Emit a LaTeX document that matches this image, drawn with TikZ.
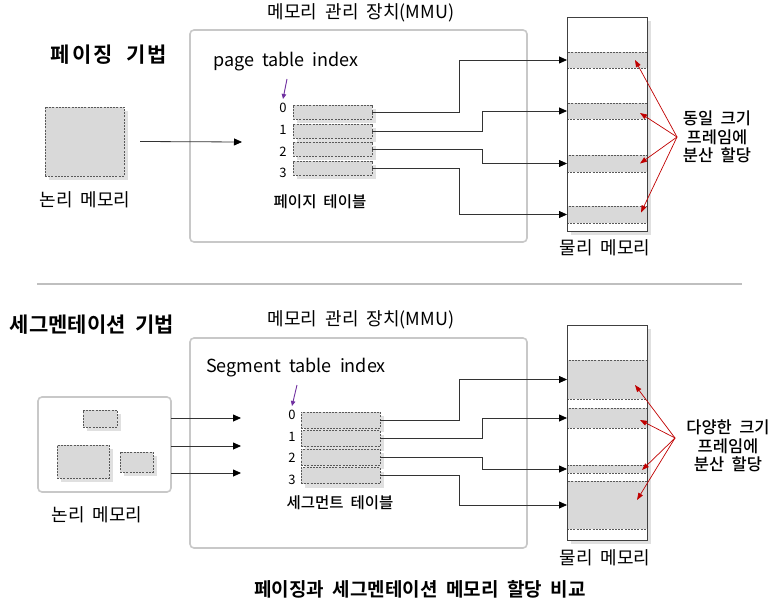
\documentclass[tikz,border=0pt]{standalone}
\usepackage{fontspec}
\setmainfont{Noto Sans CJK KR}[WordSpace=2, BoldFont={Noto Sans CJK KR Bold}]
\newfontfamily\medfont{Noto Sans CJK KR Medium}[WordSpace=2]
\usepackage{xcolor}
\usepackage{tikz}
\usetikzlibrary{arrows.meta}
\usetikzlibrary{positioning}
\usetikzlibrary{shadows}

\definecolor{cellgray}{HTML}{D9D9D9}
\definecolor{dashgray}{HTML}{595959}
\definecolor{edgegray}{HTML}{C8C8C8}
\definecolor{linegray}{HTML}{404040}
\definecolor{rulegray}{HTML}{BFBFBF}
\definecolor{notered}{HTML}{C00000}
\definecolor{idxpurple}{HTML}{7030A0}

\begin{document}
\begin{tikzpicture}[x=1pt, y=-1pt,
    cell/.style={rectangle, draw=dashgray, dash pattern=on 2pt off 1.2pt, line width=0.7pt, fill=cellgray, inner sep=0pt, outer sep=0pt},
    dropsh/.style={drop shadow={shadow xshift=4pt, shadow yshift=-4pt, fill=black!12, opacity=1}},
    tabentry/.style={cell, dropsh, minimum width=79pt},
    memframe/.style={cell, minimum width=80pt},
    softbox/.style={rectangle, draw=edgegray, line width=1.6pt, rounded corners=4pt, inner sep=0pt, outer sep=0pt},
    memory/.style={rectangle, draw=linegray, line width=0.8pt, fill=white, minimum width=80pt, inner sep=0pt, outer sep=0pt},
    memline/.style={draw=linegray, line width=0.8pt},
    link/.style={draw=black!80, line width=0.8pt, -{Triangle[length=8pt, width=7pt, color=black]}},
    pointer/.style={draw=idxpurple, line width=0.9pt, -{Triangle[length=5pt, width=4.5pt]}},
    fan/.style={draw=notered, line width=0.7pt, -{Triangle[length=7pt, width=5pt]}},
    sepline/.style={draw=rulegray, line width=2.5pt},
    lbl/.style={font=\fontsize{18}{21}\selectfont, inner sep=1pt},
    headtxt/.style={font=\fontsize{21}{24}\selectfont\bfseries, inner sep=1pt},
    tbl/.style={font=\medfont\fontsize{15.5}{18}\selectfont, inner sep=1pt},
    idx/.style={font=\fontsize{13}{15}\selectfont, inner sep=1pt},
    note/.style={font=\medfont\fontsize{16.5}{18.5}\selectfont, align=center, inner sep=1pt}
]
\useasboundingbox (0,0) rectangle (775,604);

% ---------------- 페이징 기법 ----------------
\node[headtxt] (ptitle) at (109,55) {\addfontfeature{LetterSpace=10}페이징 기법};

% 논리 메모리
\node[cell, dropsh, minimum width=79pt, minimum height=69pt] (plog) at (84.5,141.5) {};
\node[lbl] (plogl) at (85,200) {논리 메모리};

% 메모리 관리 장치
\node[softbox, minimum width=337pt, minimum height=212pt] (pmmu) at (358.5,136) {};
\node[lbl] (pmmul) at (361,13) {메모리 관리 장치(MMU)};
\node[lbl] (pidx) at (286,62) {page table index};

% 페이지 테이블
\node[tabentry, minimum height=14pt] (p0) at (332.5,112) {};
\node[tabentry, minimum height=14pt] (p1) at (332.5,131) {};
\node[tabentry, minimum height=14pt] (p2) at (332.5,149) {};
\node[tabentry, minimum height=14pt] (p3) at (332.5,168) {};
\node[idx] (pd0) at (283,108) {0};
\node[idx] (pd1) at (283,130) {1};
\node[idx] (pd2) at (283,152) {2};
\node[idx] (pd3) at (283,173) {3};
\node[tbl] (ptbl) at (320,202) {페이지 테이블};

% 물리 메모리
\node[memory, dropsh, minimum height=214pt] (pphy) at (607,124) {};
\node[memframe, minimum height=16pt] (f0) at (607,60) {};
\node[memframe, minimum height=16pt] (f1) at (607,111) {};
\node[memframe, minimum height=17pt] (f2) at (607,163.5) {};
\node[memframe, minimum height=17pt] (f3) at (607,214.5) {};
\draw[memline] (pphy.north west) rectangle (pphy.south east);
\node[lbl] (pphyl) at (605,248) {물리 메모리};

% 연결선
\coordinate (pin) at (242,142);
\draw[link] ([xshift=16pt]plog.east) -- (pin);
\draw[link] (p0.east) -- ++(87,0) |- (f0.west);
\draw[link] (p1.east) -- ++(110,0) |- (f1.west);
\draw[link] (p2.east) -- ++(110,0) |- (f2.west);
\draw[link] (p3.east) -- ++(87,0) |- (f3.west);
\coordinate (pptr) at (287,79);
\draw[pointer] (pptr) -- ([yshift=3pt]pd0.north);

% 설명
\node[note] (pnote) at (717,137) {동일 크기\\프레임에\\분산 할당};
\coordinate (pfan) at (677,137);
\draw[fan] (pfan) -- ([shift={(-12,0)}]f0.east);
\draw[fan] (pfan) -- ([shift={(-7,2)}]f1.east);
\draw[fan] (pfan) -- ([shift={(-7,0)}]f2.east);
\draw[fan] (pfan) -- ([shift={(-6,-2)}]f3.east);

% 구분선
\draw[sepline] (37,284) -- (742,284);

% ---------------- 세그멘테이션 기법 ----------------
\node[headtxt] (stitle) at (92,325) {세그멘테이션 기법};

% 논리 메모리
\node[softbox, fill=white, minimum width=133pt, minimum height=95pt] (slog) at (104.5,444.5) {};
\node[cell, dropsh, minimum width=34pt, minimum height=17pt] (sa) at (100,418.5) {};
\node[cell, dropsh, minimum width=52pt, minimum height=33pt] (sb) at (83,461.5) {};
\node[cell, dropsh, minimum width=33pt, minimum height=20pt] (sc) at (136.5,462) {};
\node[lbl] (slogl) at (97,515) {논리 메모리};

% 메모리 관리 장치
\node[softbox, minimum width=337pt, minimum height=210pt] (smmu) at (358.5,443) {};
\node[lbl] (smmul) at (361,320) {메모리 관리 장치(MMU)};
\node[lbl] (sidx) at (296,368) {Segment table index};

% 세그먼트 테이블
\node[tabentry, minimum height=16pt] (s0) at (340.5,420) {};
\node[tabentry, minimum height=16pt] (s1) at (340.5,438.5) {};
\node[tabentry, minimum height=16pt] (s2) at (340.5,457) {};
\node[tabentry, minimum height=16pt] (s3) at (340.5,475.5) {};
\node[idx] (sd0) at (292,415) {0};
\node[idx] (sd1) at (292,437) {1};
\node[idx] (sd2) at (292,458) {2};
\node[idx] (sd3) at (292,480) {3};
\node[tbl] (stbl) at (340,503) {세그먼트 테이블};

% 물리 메모리
\node[memory, dropsh, minimum height=215pt] (sphy) at (607,432.5) {};
\node[memframe, minimum height=39pt] (g0) at (607,379.5) {};
\node[memframe, minimum height=20pt] (g1) at (607,418) {};
\node[memframe, minimum height=8pt] (g2) at (607,469) {};
\node[memframe, minimum height=48pt] (g3) at (607,505) {};
\draw[memline] (sphy.north west) rectangle (sphy.south east);
\node[lbl] (sphyl) at (605,558) {물리 메모리};

% 연결선
\coordinate (sin0) at (241,418);
\coordinate (sin1) at (241,446);
\coordinate (sin2) at (241,473);
\draw[link] (sin0 -| slog.east) -- (sin0);
\draw[link] (sin1 -| slog.east) -- (sin1);
\draw[link] (sin2 -| slog.east) -- (sin2);
\draw[link] (s0.east) -- ++(79,0) |- (g0.west);
\draw[link] (s1.east) -- ++(102,0) |- (g1.west);
\draw[link] (s2.east) -- ++(102,0) |- (g2.west);
\draw[link] (s3.east) -- ++(79,0) |- (g3.west);
\coordinate (sptr) at (297,385);
\draw[pointer] (sptr) -- ([yshift=3pt]sd0.north);

% 설명
\node[note] (snote) at (728,446) {다양한 크기\\프레임에\\분산 할당};
\coordinate (sfan) at (675,438);
\draw[fan] (sfan) -- ([shift={(-12,5.5)}]g0.east);
\draw[fan] (sfan) -- ([shift={(-7,2)}]g1.east);
\draw[fan] (sfan) -- ([shift={(-5,1)}]g2.east);
\draw[fan] (sfan) -- ([shift={(-10,-5)}]g3.east);

% 제목
\node[headtxt, font=\fontsize{19}{22}\selectfont\bfseries] (title) at (420,589) {페이징과 세그멘테이션 메모리 할당 비교};

\end{tikzpicture}
\end{document}
